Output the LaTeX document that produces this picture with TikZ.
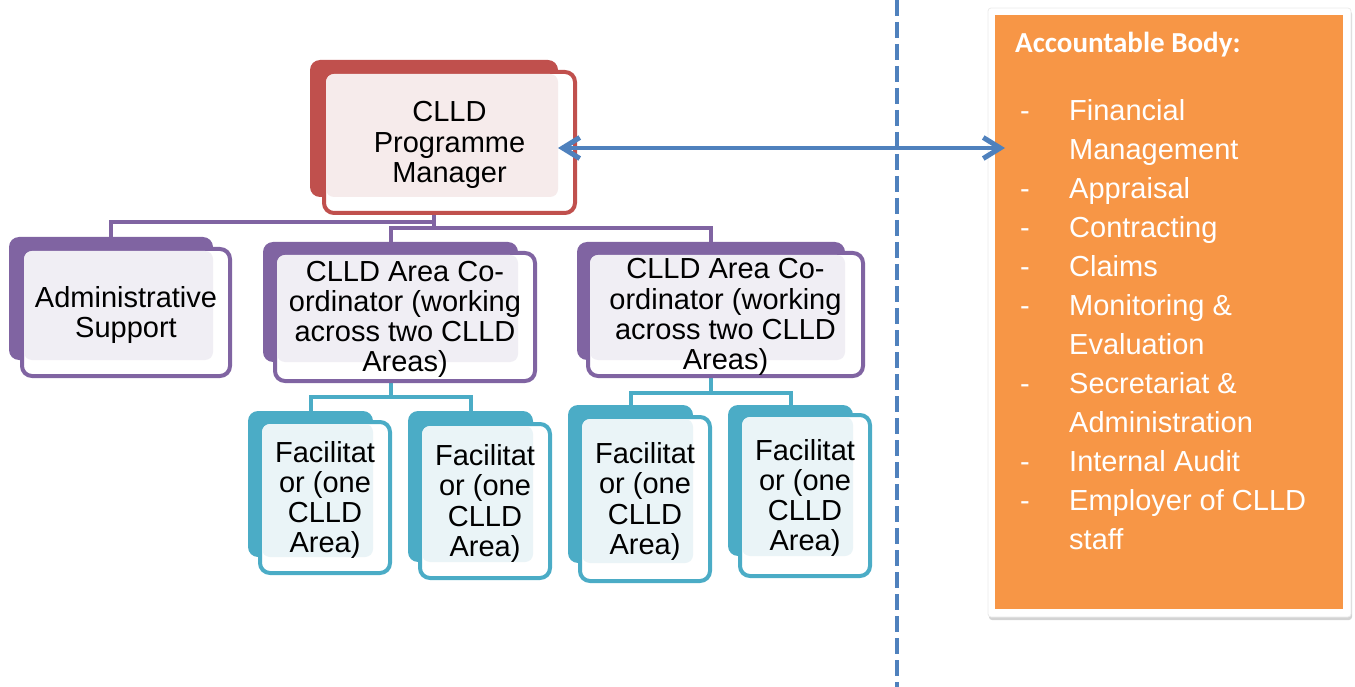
\documentclass[tikz,border=0pt]{standalone}
\usepackage{fontspec}
\setmainfont{Liberation Sans}
\newfontfamily\calibri{Carlito}
\usetikzlibrary{positioning}
\usetikzlibrary{arrows.meta}
\usetikzlibrary{shadows}
\usetikzlibrary{backgrounds}
\definecolor{cred}{HTML}{C0504D}
\definecolor{cpur}{HTML}{8064A2}
\definecolor{ccya}{HTML}{4BACC6}
\definecolor{cblu}{HTML}{4F81BD}
\definecolor{cora}{HTML}{F79646}
\definecolor{lred}{RGB}{246,235,235}
\definecolor{lpur}{RGB}{240,238,244}
\definecolor{lcya}{RGB}{234,244,247}
\tikzset{
    backr/.style = {rectangle, rounded corners=10pt, inner sep=0pt, outer sep=0pt, fill=cred},
    backp/.style = {rectangle, rounded corners=10pt, inner sep=0pt, outer sep=0pt, fill=cpur},
    backc/.style = {rectangle, rounded corners=10pt, inner sep=0pt, outer sep=0pt, fill=ccya},
    frontr/.style = {rectangle, rounded corners=10pt, inner sep=0pt, outer sep=0pt, line width=4pt, draw=cred, fill=white},
    frontp/.style = {rectangle, rounded corners=10pt, inner sep=0pt, outer sep=0pt, line width=4pt, draw=cpur, fill=white},
    frontc/.style = {rectangle, rounded corners=10pt, inner sep=0pt, outer sep=0pt, line width=4pt, draw=ccya, fill=white},
    lightr/.style = {rounded corners=8pt, fill=lred},
    lightp/.style = {rounded corners=8pt, fill=lpur},
    lightc/.style = {rounded corners=8pt, fill=lcya},
    boxtext/.style = {align=center, inner sep=0pt, yshift=-2.5pt, text=black, font=\fontsize{29}{30.2}\selectfont},
    edgep/.style = {-, line width=4pt, cpur},
    edgec/.style = {-, line width=4pt, ccya},
    edgel/.style = {{Straight Barb[length=17pt,width=21pt,line width=5pt]}-{Straight Barb[length=17pt,width=21pt,line width=5pt]}, line width=4.5pt, cblu},
    edged/.style = {-, line width=4pt, cblu, dash pattern=on 16pt off 6pt},
    accbox/.style = {rectangle, inner sep=0pt, outer sep=0pt, fill=white, draw=black!8, line width=0.8pt, rounded corners=3pt,
                     drop shadow={opacity=0.35, shadow xshift=1pt, shadow yshift=-3pt}},
    accfill/.style = {rectangle, inner sep=0pt, outer sep=0pt, fill=cora},
    acchead/.style = {inner sep=0pt, text=white, font=\calibri\bfseries\fontsize{29}{34}\selectfont},
    acclist/.style = {inner sep=0pt, text=white, font=\fontsize{29}{39}\selectfont}
}

\begin{document}
\begin{tikzpicture}[x=1pt,y=-1pt]
\useasboundingbox (0,0) rectangle (1355,687);
% back boxes
\node[backr, minimum width=248pt, minimum height=137pt] at (434.0, 128.5) (mgrB) {};
\node[backp, minimum width=204pt, minimum height=123pt] at (111.0, 298.5) (admB) {};
\node[backp, minimum width=255pt, minimum height=120pt] at (390.5, 302.0) (co1B) {};
\node[backp, minimum width=268pt, minimum height=118pt] at (711.0, 301.0) (co2B) {};
\node[backc, minimum width=125pt, minimum height=146pt] at (310.5, 484.0) (fa1B) {};
\node[backc, minimum width=125pt, minimum height=151pt] at (470.5, 486.5) (fa2B) {};
\node[backc, minimum width=125pt, minimum height=158pt] at (630.5, 484.0) (fa3B) {};
\node[backc, minimum width=125pt, minimum height=151pt] at (790.5, 480.5) (fa4B) {};
% front boxes
\node[frontr, minimum width=251pt, minimum height=141pt] at (449.5, 142.5) (mgrF) {};
\node[frontp, minimum width=208pt, minimum height=127pt] at (126.0, 312.5) (admF) {};
\node[frontp, minimum width=260pt, minimum height=128pt] at (405.0, 317.0) (co1F) {};
\node[frontp, minimum width=275pt, minimum height=123pt] at (725.5, 314.5) (co2F) {};
\node[frontc, minimum width=130pt, minimum height=151pt] at (325.0, 497.5) (fa1F) {};
\node[frontc, minimum width=130pt, minimum height=154pt] at (485.0, 501.0) (fa2F) {};
\node[frontc, minimum width=130pt, minimum height=164pt] at (645.0, 499.0) (fa3F) {};
\node[frontc, minimum width=130pt, minimum height=161pt] at (805.0, 495.5) (fa4F) {};
% light fills
\fill[lightr] ([shift={(2pt,-2pt)}]mgrF.north west) rectangle (mgrB.south east);
\fill[lightp] ([shift={(2pt,-2pt)}]admF.north west) rectangle (admB.south east);
\fill[lightp] ([shift={(2pt,-2pt)}]co1F.north west) rectangle (co1B.south east);
\fill[lightp] ([shift={(2pt,-2pt)}]co2F.north west) rectangle (co2B.south east);
\fill[lightc] ([shift={(2pt,-2pt)}]fa1F.north west) rectangle (fa1B.south east);
\fill[lightc] ([shift={(2pt,-2pt)}]fa2F.north west) rectangle (fa2B.south east);
\fill[lightc] ([shift={(2pt,-2pt)}]fa3F.north west) rectangle (fa3B.south east);
\fill[lightc] ([shift={(2pt,-2pt)}]fa4F.north west) rectangle (fa4B.south east);
% texts
\node[boxtext] at (mgrF.center) (mgrT) {CLLD\\Programme\\Manager};
\node[boxtext] at (admF.center) (admT) {Administrative\\Support};
\node[boxtext] at (co1F.center) (co1T) {CLLD Area Co-\\ordinator (working\\across two CLLD\\Areas)};
\node[boxtext] at (co2F.center) (co2T) {CLLD Area Co-\\ordinator (working\\across two CLLD\\Areas)};
\node[boxtext] at (fa1F.center) (fa1T) {Facilitat\\or (one\\CLLD\\Area)};
\node[boxtext] at (fa2F.center) (fa2T) {Facilitat\\or (one\\CLLD\\Area)};
\node[boxtext] at (fa3F.center) (fa3T) {Facilitat\\or (one\\CLLD\\Area)};
\node[boxtext] at (fa4F.center) (fa4T) {Facilitat\\or (one\\CLLD\\Area)};
%
\begin{scope}[on background layer]
\draw[edgep] (mgrB.south) -- ++(0,25) -| (admB.north);
\draw[edgep] (mgrB.south) -- ++(0,31) -| (co1B.north);
\draw[edgep] (mgrB.south) -- ++(0,31) -| (co2B.north);
\draw[edgec] (co1B.south) -- ++(0,35) -| (fa1B.north);
\draw[edgec] (co1B.south) -- ++(0,35) -| (fa2B.north);
\draw[edgec] (co2B.south) -- ++(0,33) -| (fa3B.north);
\draw[edgec] (co2B.south) -- ++(0,33) -| (fa4B.north);
\end{scope}
% accountable body
\node[accbox, minimum width=363pt, minimum height=609pt] at (1169.5, 312.5) (accB) {};
\node[accfill, minimum width=348pt, minimum height=594pt] at (1169.0, 312.0) (accF) {};
\node[acchead, anchor=base west] at (1015, 53) (accH) {Accountable Body:};
\node[acclist, anchor=north west] at (1020, 92.7) (accL) {%
\begin{tabular}{@{}p{49pt}@{}l@{}}
- & Financial\\
  & Management\\
- & Appraisal\\
- & Contracting\\
- & Claims\\
- & Monitoring \&\\
  & Evaluation\\
- & Secretariat \&\\
  & Administration\\
- & Internal Audit\\
- & Employer of CLLD\\
  & staff
\end{tabular}};
%
\coordinate (divT) at (897, 0);
\coordinate (divB) at (897, 687);
\draw[edged] (divT) -- (divB);
\coordinate (lnkL) at ([yshift=-19.5pt]mgrB.east);
\coordinate (lnkR) at (1005, 148);
\draw[edgel] (lnkL) -- (lnkR);
\end{tikzpicture}
\end{document}
